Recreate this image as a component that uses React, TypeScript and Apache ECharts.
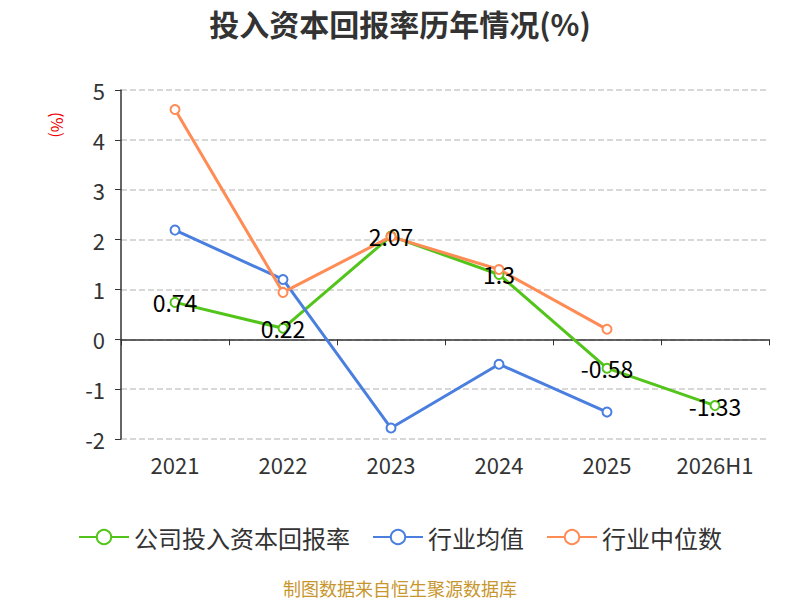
import { useRef, useEffect } from 'react';
import * as echarts from 'echarts';

const years = ['2021', '2022', '2023', '2024', '2025', '2026H1'];
const companyRoic = [0.74, 0.22, 2.07, 1.3, -0.58, -1.33];
const industryAvg = [2.19, 1.2, -1.78, -0.5, -1.46, null];
const industryMedian = [4.61, 0.94, 2.06, 1.4, 0.2, null];

const font = '"Noto Sans CJK SC", "Noto Sans", sans-serif';

export default function App() {
  const chartRef = useRef<HTMLDivElement>(null);

  useEffect(() => {
    document.body.style.margin = '0';
    let chart: echarts.ECharts | undefined;

    if (chartRef.current) {
      chart = echarts.init(chartRef.current, undefined, { renderer: 'svg' });

      const lineSeries = (name: string, data: (number | null)[], color: string, withLabel: boolean) => ({
        name,
        type: 'line',
        data,
        symbol: 'emptyCircle',
        symbolSize: 9,
        connectNulls: false,
        itemStyle: { color, borderWidth: 2 },
        lineStyle: { color, width: 3 },
        label: {
          show: withLabel,
          position: 'inside',
          color: '#000',
          fontSize: 23,
          fontFamily: font,
        },
      });

      chart.setOption({
        animation: false,
        textStyle: { fontFamily: font },
        title: {
          text: '投入资本回报率历年情况(%)',
          left: 'center',
          top: 3,
          textStyle: { fontSize: 30, fontWeight: 'bold', color: '#333', fontFamily: font },
        },
        grid: { left: 121, right: 31, top: 90, bottom: 161 },
        legend: {
          top: 520,
          left: 'center',
          itemWidth: 50,
          itemHeight: 18,
          itemGap: 22,
          textStyle: { fontSize: 24, color: '#333', fontFamily: font },
          data: ['公司投入资本回报率', '行业均值', '行业中位数'],
        },
        xAxis: {
          type: 'category',
          data: years,
          axisLine: { onZero: true, lineStyle: { color: '#333', width: 1.5 } },
          axisTick: { show: true, length: 6, lineStyle: { color: '#333' } },
          axisLabel: { fontSize: 22, color: '#333', margin: 14, fontFamily: font },
        },
        yAxis: {
          type: 'value',
          min: -2,
          max: 5,
          interval: 1,
          axisLine: { show: true, lineStyle: { color: '#333', width: 1.5 } },
          axisTick: { show: true, length: 6, lineStyle: { color: '#333' } },
          axisLabel: { fontSize: 22, color: '#333', margin: 16, fontFamily: font },
          splitLine: { lineStyle: { color: '#ccc', type: 'dashed', width: 1.5 } },
        },
        graphic: [
          {
            type: 'text',
            left: 50,
            top: 112,
            rotation: -Math.PI / 2,
            style: { text: '(%)', fill: '#e00', fontSize: 16, fontFamily: font },
          },
          {
            type: 'text',
            left: 'center',
            top: 579,
            style: { text: '制图数据来自恒生聚源数据库', fill: '#c8962e', fontSize: 18, fontFamily: font },
          },
        ],
        series: [
          lineSeries('公司投入资本回报率', companyRoic, '#52c41a', true),
          lineSeries('行业均值', industryAvg, '#4a7fe0', false),
          lineSeries('行业中位数', industryMedian, '#ff8c55', false),
        ],
      });
    }

    return () => {
      chart?.dispose();
    };
  }, []);

  return <div ref={chartRef} style={{ width: 800, height: 600 }} />;
}
